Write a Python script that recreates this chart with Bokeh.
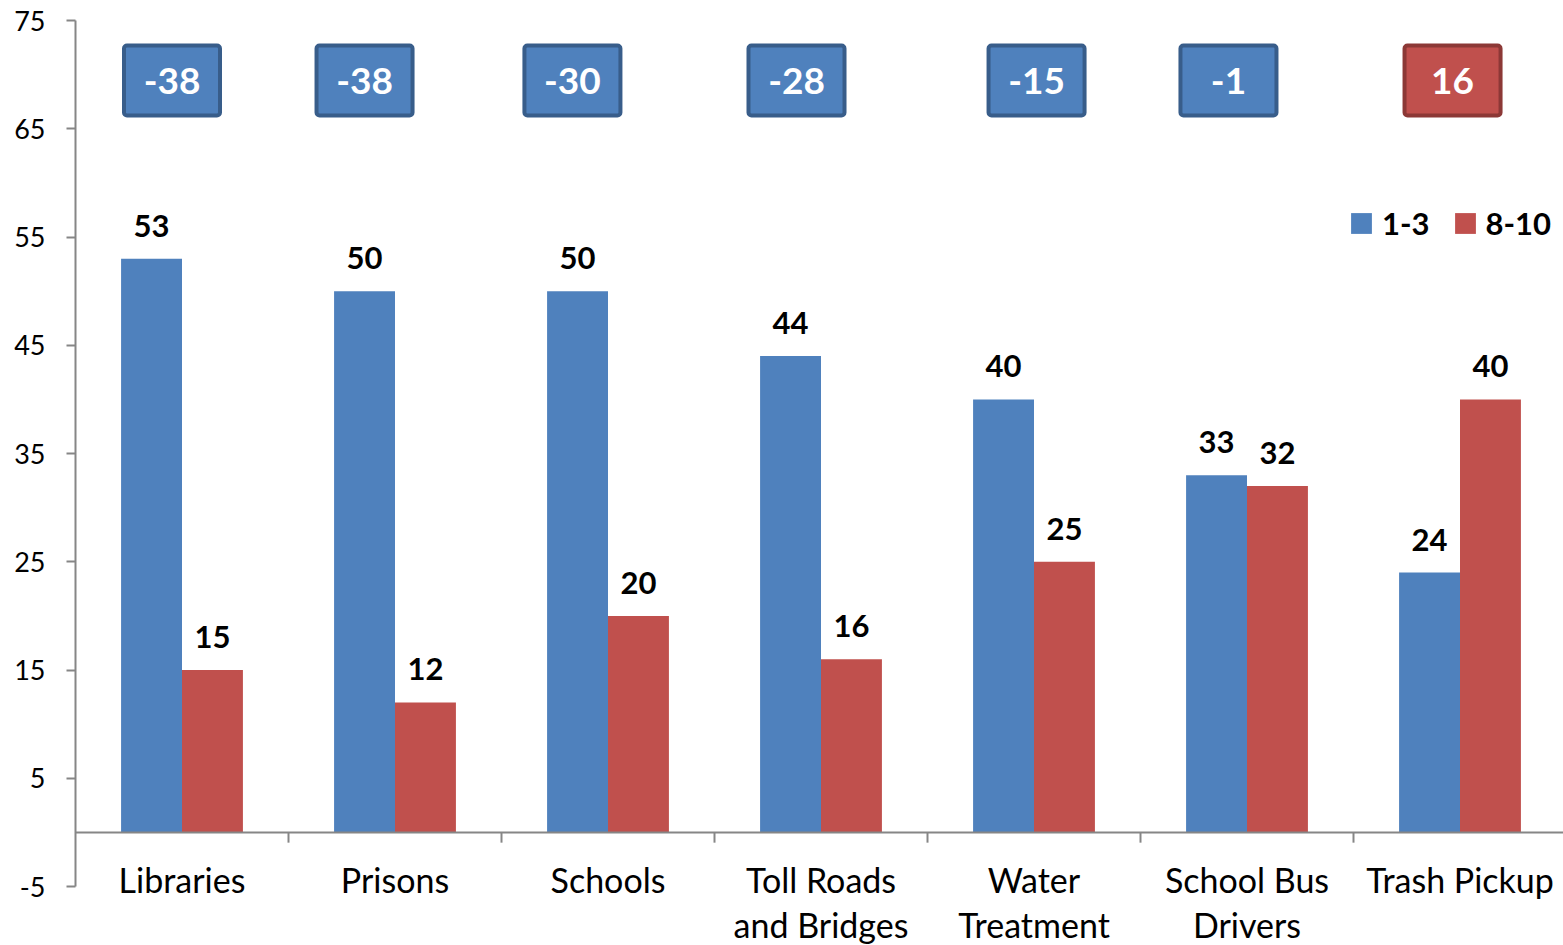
from bokeh.plotting import figure
from bokeh.models import (Range1d, FixedTicker, Span, Legend, LegendItem, LabelSet,
                          Label, ColumnDataSource)
from bokeh.core.properties import value
from bokeh.embed import file_html
from bokeh.resources import INLINE

# ---- data ----
categories = ["Libraries", "Prisons", "Schools", "Toll Roads\nand Bridges",
              "Water\nTreatment", "School Bus\nDrivers", "Trash Pickup"]
series_names = ["1-3", "8-10"]
low_vals = [53, 50, 50, 44, 40, 33, 24]     # 1-3
high_vals = [15, 12, 20, 16, 25, 32, 40]    # 8-10
y_ticks = [-5, 5, 15, 25, 35, 45, 55, 65, 75]

# ---- layout constants ----
BLUE, RED = "#4f81bd", "#c0504d"
BLUE_DARK, RED_DARK = "#385d8a", "#8c3836"
GRAY = "#868686"
FONT = "Lato"
bar_w = 0.286
box_shift = [-0.047, -0.143, -0.167, -0.115, 0.012, -0.087, -0.035]
box_cy = 69.46
box_hw = 0.2254
box_hh = 3.23

n = len(categories)
centers = [i + 0.5 for i in range(n)]
diffs = [h - l for h, l in zip(high_vals, low_vals)]

p = figure(width=1563, height=945, output_backend="svg", toolbar_location=None,
           x_range=Range1d(0, 1488 / 213),
           y_range=Range1d(75 - 925 / 10.825, 75),
           x_axis_location=None, min_border_left=75, min_border_right=0,
           min_border_top=20, min_border_bottom=0)
p.outline_line_color = None
p.xgrid.visible = False
p.ygrid.visible = False
p.background_fill_color = "white"
p.border_fill_color = "white"

# y axis
ax = p.yaxis[0]
ax.ticker = FixedTicker(ticks=y_ticks)
ax.bounds = (y_ticks[0], y_ticks[-1])
ax.major_label_overrides = {t: str(t) for t in y_ticks}
ax.axis_line_color = GRAY
ax.axis_line_width = 2
ax.major_tick_line_color = GRAY
ax.major_tick_line_width = 2
ax.major_tick_out = 9
ax.major_tick_in = 0
ax.minor_tick_line_color = None
ax.major_label_standoff = 21
ax.major_label_text_font = FONT
ax.major_label_text_font_size = "27px"
ax.major_label_text_color = "black"

# bars
src = ColumnDataSource(dict(
    xb=[c - bar_w / 2 for c in centers], xr=[c + bar_w / 2 for c in centers],
    low=low_vals, high=high_vals,
    lowt=[str(v) for v in low_vals], hight=[str(v) for v in high_vals]))
rb = p.vbar(x="xb", top="low", bottom=0, width=bar_w, source=src,
            fill_color=BLUE, line_color=None)
rr = p.vbar(x="xr", top="high", bottom=0, width=bar_w, source=src,
            fill_color=RED, line_color=None)

# zero line and category ticks
p.add_layout(Span(location=0, dimension="width", line_color=GRAY, line_width=2))
p.segment(x0=list(range(1, n)), y0=[0] * (n - 1), x1=list(range(1, n)),
          y1=[-0.95] * (n - 1), line_color=GRAY, line_width=2)

# value labels
for col_x, col_y, col_t in (("xb", "low", "lowt"), ("xr", "high", "hight")):
    p.add_layout(LabelSet(x=col_x, y=col_y, text=col_t, source=src, y_offset=22,
                          text_align="center", text_baseline="alphabetic",
                          text_font=value(FONT), text_font_style="bold",
                          text_font_size="31px", text_color="black"))

# difference boxes
bx = [c + s for c, s in zip(centers, box_shift)]
bsrc = ColumnDataSource(dict(
    x=bx, left=[x - box_hw for x in bx], right=[x + box_hw for x in bx],
    top=[box_cy + box_hh] * n, bottom=[box_cy - box_hh] * n,
    y=[box_cy] * n, t=[str(d) for d in diffs],
    fill=[RED if d > 0 else BLUE for d in diffs],
    line=[RED_DARK if d > 0 else BLUE_DARK for d in diffs]))
p.quad(left="left", right="right", top="top", bottom="bottom", source=bsrc,
       fill_color="fill", line_color="line", line_width=4, border_radius=3)
p.add_layout(LabelSet(x="x", y="y", text="t", source=bsrc, y_offset=-14,
                      text_align="center", text_baseline="alphabetic",
                      text_font=value(FONT), text_font_style="bold",
                      text_font_size="37px", text_color="white"))

# category labels
for c, name in zip(centers, categories):
    for k, line in enumerate(name.split("\n")):
        p.add_layout(Label(x=c, y=0, y_offset=-47 - 45 * k, text=line,
                           text_align="center", text_baseline="alphabetic",
                           text_font=FONT, text_font_size="34px",
                           text_color="black"))

# legend
legend = Legend(items=[LegendItem(label=series_names[0], renderers=[rb]),
                       LegendItem(label=series_names[1], renderers=[rr])],
                orientation="horizontal", location=(1273, 703),
                glyph_width=26, glyph_height=26, label_standoff=8, spacing=22,
                padding=0, margin=0, background_fill_alpha=0,
                border_line_alpha=0, label_text_font=FONT,
                label_text_font_style="bold", label_text_font_size="31px",
                label_text_color="black")
p.add_layout(legend)

open("out.html", "w").write(file_html(p, INLINE))
